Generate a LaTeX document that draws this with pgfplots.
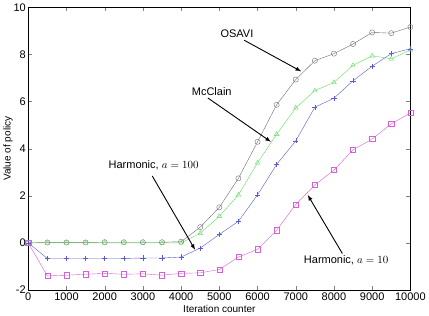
\documentclass[border=0pt]{standalone}
\usepackage{pgfplots}
\pgfplotsset{compat=1.18}
\usepackage{fontspec}
\setmainfont{Liberation Sans}
\definecolor{osavi}{RGB}{110,110,110}
\definecolor{mcg}{RGB}{100,220,100}
\definecolor{hblue}{RGB}{90,90,210}
\definecolor{hmag}{RGB}{215,95,215}
\begin{document}
\begin{tikzpicture}
\begin{axis}[
  scale only axis,
  width=381bp, height=282bp,
  xmin=0, xmax=10000, ymin=-2, ymax=10,
  xtick={0,1000,...,10000}, ytick={-2,0,...,10},
  scaled x ticks=false,
  xticklabel style={/pgf/number format/1000 sep={}},
  /pgf/number format/assume math mode=true,
  tick align=inside, tick pos=both,
  major tick length=4bp,
  tick label style={font=\fontsize{11}{12}\selectfont},
  label style={font=\fontsize{10}{11}\selectfont},
  xlabel={Iteration counter}, ylabel={Value of policy},
  xlabel style={yshift=2pt}, ylabel style={yshift=-6pt},
  xticklabel style={yshift=1pt}, yticklabel style={xshift=1pt},
  axis line style={thin},
  every axis plot/.append style={line width=0.4pt, mark size=2.6pt},
]
\addplot[color=osavi, mark=o] coordinates {
(0,0) (500,0.02) (1000,0.02) (1500,0.02) (2000,0.03) (2500,0.03) (3000,0.03) (3500,0.03) (4000,0.05)
(4500,0.67) (5000,1.51) (5500,2.74) (6000,4.29) (6500,5.86) (7000,6.93) (7500,7.73)
(8000,8.03) (8500,8.44) (9000,8.93) (9500,8.9) (10000,9.16)
};
\addplot[color=mcg, mark=triangle] coordinates {
(0,0) (500,0) (1000,0) (1500,0) (2000,0) (2500,0) (3000,0) (3500,0) (4000,0)
(4500,0.41) (5000,1.13) (5500,2.04) (6000,3.4) (6500,4.61) (7000,5.73) (7500,6.46)
(8000,6.81) (8500,7.54) (9000,7.94) (9500,7.81) (10000,8.19)
};
\addplot[color=hblue, mark=+] coordinates {
(0,0) (500,-0.66) (1000,-0.66) (1500,-0.66) (2000,-0.66) (2500,-0.66) (3000,-0.64) (3500,-0.64) (4000,-0.6)
(4500,-0.22) (5000,0.36) (5500,0.92) (6000,2.04) (6500,3.33) (7000,4.33) (7500,5.76)
(8000,6.14) (8500,6.88) (9000,7.5) (9500,8.03) (10000,8.24)
};
\addplot[color=hmag, mark=square] coordinates {
(0,0) (500,-1.4) (1000,-1.37) (1500,-1.33) (2000,-1.29) (2500,-1.33) (3000,-1.31) (3500,-1.37) (4000,-1.29)
(4500,-1.27) (5000,-1.13) (5500,-0.6) (6000,-0.27) (6500,0.54) (7000,1.63) (7500,2.46)
(8000,3.09) (8500,3.95) (9000,4.41) (9500,5.05) (10000,5.51)
};
\begin{scope}[every node/.style={font=\fontsize{11}{12}\selectfont, inner sep=1pt}]
\node[anchor=south west] at (axis cs:5000,8.65) {OSAVI};
\node[anchor=south west] at (axis cs:4250,6.2) {McClain};
\node at (axis cs:3280,3.28) {Harmonic, $a=100$};
\node at (axis cs:8320,-0.74) {Harmonic, $a=10$};
\end{scope}
\draw[-latex, line width=0.9pt] (axis cs:5650,8.6) -- (axis cs:7140,7.28);
\draw[-latex, line width=0.9pt] (axis cs:4700,6.15) -- (axis cs:6350,4.29);
\draw[-latex, line width=0.9pt] (axis cs:3245,2.84) -- (axis cs:4365,-0.29);
\draw[-latex, line width=0.9pt] (axis cs:8220,-0.45) -- (axis cs:7315,2.03);
\end{axis}
\end{tikzpicture}
\end{document}
